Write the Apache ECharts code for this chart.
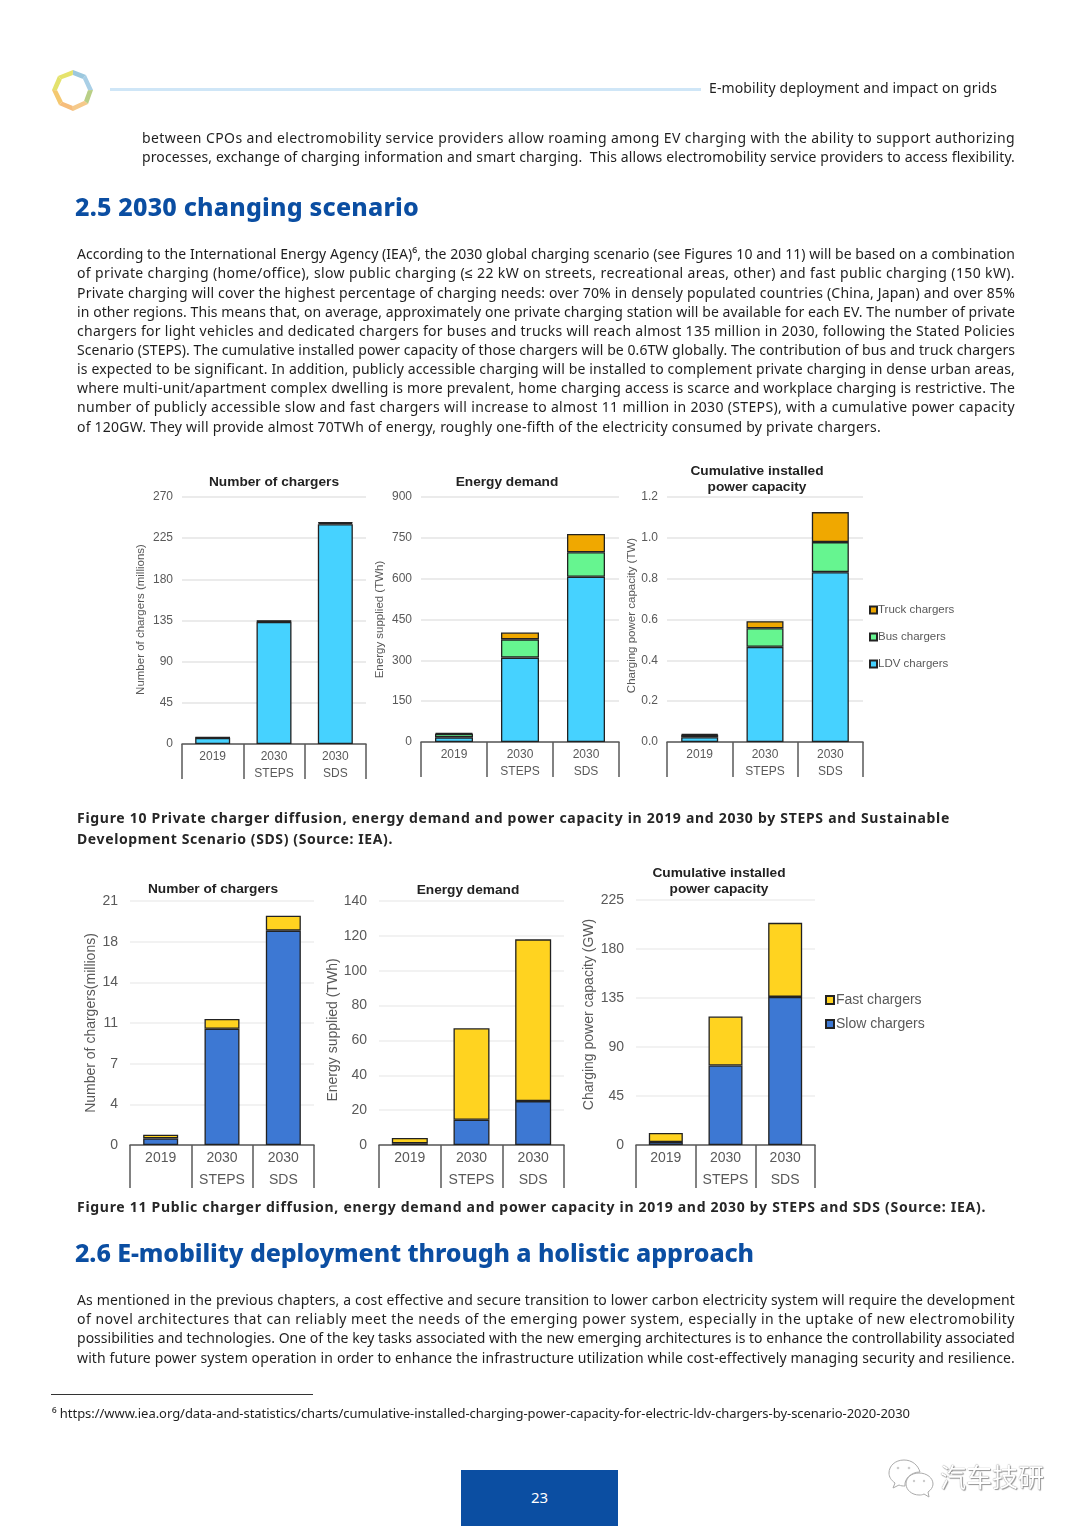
<!DOCTYPE html>
<html>
<head>
<meta charset="utf-8">
<title>E-mobility deployment and impact on grids</title>
<script src="https://cdn.jsdelivr.net/npm/echarts@6/dist/echarts.min.js"></script>
<style>
  html, body { margin: 0; padding: 0; background: #fff; }
  #page { position: relative; width: 1080px; height: 1526px; overflow: hidden; }
  #charts { position: absolute; left: 0; top: 0; width: 1080px; height: 1526px; }
  .line { position: absolute; white-space: pre; font-family: "Noto Sans", sans-serif; line-height: 20px; height: 20px; color: #1f1f1f; }
  .body { font-size: 14px; }
  .note { font-size: 13px; }
  .cap { font-size: 14px; font-weight: 700; color: #262626; }
  .head { font-size: 25px; font-weight: 800; color: #0b4ea2; line-height: 34px; height: 34px; }
  #rule1 { position: absolute; left: 110px; top: 88px; width: 591px; height: 3px; background: #cfe6f7; }
  #rule2 { position: absolute; left: 51px; top: 1394px; width: 262px; height: 1px; background: #333; }
  #pageno { position: absolute; left: 461px; top: 1470px; width: 157px; height: 56px; background: #0b4ea2; color: #fff;
    font: 15px/54px "Noto Sans", sans-serif; text-align: center; }
  #mark { position: absolute; left: 940px; top: 1459px; font: 26px/34px "Noto Sans CJK SC", sans-serif; color: #fff;
    text-shadow: 0 0 1px #666, 1px 1px 1px #999; white-space: pre; }
  #wechat { position: absolute; left: 887px; top: 1458px; }
  #logo { position: absolute; left: 52px; top: 69px; }
</style>
</head>
<body>
<div id="page">
  <div id="charts"></div>
  <div id="rule1"></div>
  <div id="rule2"></div>
  <div id="pageno">23</div>
  <svg id="logo" width="42" height="44" viewBox="0 0 42 44">
    <polygon points="21,1 34,6 20,22" fill="#9cc8de"/>
    <polygon points="34,6 41,21 20,22" fill="#a9cfe6"/>
    <polygon points="41,21 36,35 20,22" fill="#b9cf86"/>
    <polygon points="36,35 21,42 20,22" fill="#f5c98a"/>
    <polygon points="21,42 7,36 20,22" fill="#f6bd7c"/>
    <polygon points="7,36 0,21 20,22" fill="#f4c870"/>
    <polygon points="0,21 6,7 20,22" fill="#e3e26c"/>
    <polygon points="6,7 21,1 20,22" fill="#e6e36c"/>
    <polygon points="21,6 31,10 36,21 32,32 21,37 11,33 5,21 10,10" fill="#fff"/>
  </svg>
  <svg id="wechat" width="48" height="40" viewBox="0 0 48 40">
    <path d="M17 2C8 2 2 8 2 15c0 4 2 7 6 10l-2 5 6-3c2 1 4 1 6 1C17 21 24 14 33 14 31 7 25 2 17 2Z" fill="#fff" stroke="#aaa" stroke-width="1"/>
    <path d="M32 15c-8 0-13 5-13 11s6 11 13 11c2 0 3 0 5-1l5 3-1-5c3-2 5-5 5-8 0-6-6-11-14-11Z" fill="#fff" stroke="#aaa" stroke-width="1"/>
    <circle cx="11" cy="10" r="1.3" fill="#ccc"/><circle cx="22" cy="10" r="1.3" fill="#ccc"/>
    <circle cx="27" cy="23" r="1.2" fill="#ccc"/><circle cx="37" cy="23" r="1.2" fill="#ccc"/>
  </svg>
  <div id="mark">汽车技研</div>
</div>
<script>
const categories = ['2019', '2030\nSTEPS', '2030\nSDS'];

// private chargers (figure 10)
const ldvCount = [6.5, 133.5, 240.2];
const busCount = [0.5, 0.9, 1.4];
const truckCount = [0.3, 0.4, 0.7];
const ldvEnergy = [17, 310, 607];
const busEnergy = [13, 67, 90];
const truckEnergy = [4, 25, 67];
const ldvPower = [0.023, 0.466, 0.832];
const busPower = [0.012, 0.091, 0.147];
const truckPower = [0.004, 0.035, 0.147];

// public chargers (figure 11)
const slowCount = [0.57, 10, 18.45];
const fastCount = [0.32, 0.84, 1.29];
const slowEnergy = [1, 14.5, 25.2];
const fastEnergy = [3, 52.5, 92.8];
const slowPower = [2.8, 73, 136];
const fastPower = [8.2, 45, 68];

const publicCountTicks = ['0', '4', '7', '11', '14', '18', '21'];

const privateColors = { 'LDV chargers': '#46d2ff', 'Bus chargers': '#66f590', 'Truck chargers': '#f0a800' };
const publicColors = { 'Slow chargers': '#3d78d3', 'Fast chargers': '#ffd320' };

const GREY = '#595959';
const DARK = '#222';

// namePad shifts the rotated axis name along the axis
const panels = [
  {
    title: 'Number of chargers', titleX: 274, titleY: 482, name: 'Number of chargers (millions)',
    left: 182, right: 366, top: 497, bottom: 744, max: 270, interval: 45, gap: 35, barWidth: 35, small: true, namePad: [0, 0, 0, 2],
    series: [['LDV chargers', ldvCount], ['Bus chargers', busCount], ['Truck chargers', truckCount]],
  },
  {
    title: 'Energy demand', titleX: 507, titleY: 482, name: 'Energy supplied (TWh)',
    left: 421, right: 619, top: 497, bottom: 742, max: 900, interval: 150, gap: 35, barWidth: 38, small: true, namePad: [0, 0, 0, 0],
    series: [['LDV chargers', ldvEnergy], ['Bus chargers', busEnergy], ['Truck chargers', truckEnergy]],
  },
  {
    title: 'Cumulative installed\npower capacity', titleX: 757, titleY: 479, name: 'Charging power capacity (TW)',
    left: 667, right: 863, top: 497, bottom: 742, max: 1.2, interval: 0.2, gap: 29, barWidth: 37, small: true, digits: 1, namePad: [0, 0, 0, 8],
    series: [['LDV chargers', ldvPower], ['Bus chargers', busPower], ['Truck chargers', truckPower]],
  },
  {
    title: 'Number of chargers', titleX: 213, titleY: 889, name: 'Number of chargers(millions)',
    left: 130, right: 314, top: 901, bottom: 1145, max: 21, interval: 3.5, gap: 25, barWidth: 35, ticks: publicCountTicks, namePad: [0, 0, 0, 0],
    series: [['Slow chargers', slowCount], ['Fast chargers', fastCount]],
  },
  {
    title: 'Energy demand', titleX: 468, titleY: 890, name: 'Energy supplied (TWh)',
    left: 379, right: 564, top: 901, bottom: 1145, max: 140, interval: 20, gap: 34, barWidth: 36, namePad: [0, 14, 0, 0],
    series: [['Slow chargers', slowEnergy], ['Fast chargers', fastEnergy]],
  },
  {
    title: 'Cumulative installed\npower capacity', titleX: 719, titleY: 881, name: 'Charging power capacity (GW)',
    left: 636, right: 815, top: 900, bottom: 1145, max: 225, interval: 45, gap: 40, barWidth: 34, namePad: [0, 0, 0, 16],
    series: [['Slow chargers', slowPower], ['Fast chargers', fastPower]],
  },
];

const W = 1080;
const H = 1526;
const colors = Object.assign({}, privateColors, publicColors);

const option = {
  animation: false,
  title: panels.map((p) => ({
    text: p.title,
    left: p.titleX,
    top: p.titleY,
    padding: 0,
    textAlign: 'center',
    textVerticalAlign: 'middle',
    textStyle: { fontFamily: 'Liberation Sans', fontSize: 13.7, fontWeight: 'bold', color: DARK, lineHeight: 16 },
  })),
  grid: panels.map((p) => ({ left: p.left, top: p.top, width: p.right - p.left, height: p.bottom - p.top })),
  xAxis: panels.map((p, i) => ({
    type: 'category',
    gridIndex: i,
    data: categories,
    axisLine: { lineStyle: { color: GREY, width: 1.5 } },
    axisTick: { show: true, length: p.small ? 35 : 43, lineStyle: { color: GREY, width: 1.5 } },
    axisLabel: {
      interval: 0,
      margin: p.small ? 4 : 2,
      color: GREY,
      fontFamily: 'Liberation Sans',
      fontSize: p.small ? 12 : 14,
      lineHeight: p.small ? 17 : 22,
      verticalAlign: 'top',
    },
  })),
  yAxis: panels.map((p, i) => ({
    type: 'value',
    gridIndex: i,
    min: 0,
    max: p.max,
    interval: p.interval,
    name: p.name,
    nameLocation: 'middle',
    nameGap: p.gap,
    nameRotate: 90,
    nameTextStyle: { fontFamily: 'Liberation Sans', fontSize: p.small ? 11.5 : 14, color: GREY, padding: p.namePad },
    axisLine: { show: false },
    axisTick: { show: false },
    splitLine: { lineStyle: { color: p.small ? '#e4e4e4' : '#eeeeee', width: 1.5 } },
    axisLabel: {
      margin: p.small ? 9 : 12,
      color: GREY,
      fontFamily: 'Liberation Sans',
      fontSize: p.small ? 12 : 14,
      formatter: (v) => {
        if (p.ticks) return p.ticks[Math.round(v / p.interval)];
        return p.digits ? v.toFixed(p.digits) : String(v);
      },
    },
  })),
  legend: [
    {
      data: ['Truck chargers', 'Bus chargers', 'LDV chargers'],
      orient: 'vertical', left: 869, top: 603, itemWidth: 7, itemHeight: 7, itemGap: 13, padding: 0,
      icon: 'rect',
      selectedMode: false,
      textStyle: { fontFamily: 'Liberation Sans', fontSize: 11.5, color: GREY, padding: [0, 0, 0, -4], height: 14, lineHeight: 14 },
    },
    {
      data: ['Fast chargers', 'Slow chargers'],
      orient: 'vertical', left: 825, top: 992, itemWidth: 8, itemHeight: 8, itemGap: 8, padding: 0,
      icon: 'rect',
      selectedMode: false,
      textStyle: { fontFamily: 'Liberation Sans', fontSize: 14, color: GREY, padding: [0, 0, 0, -3], height: 16, lineHeight: 16 },
    },
  ],
  series: panels.flatMap((p, i) => p.series.map(([name, values]) => ({
    type: 'bar',
    name,
    stack: 'panel' + i,
    xAxisIndex: i,
    yAxisIndex: i,
    data: values,
    barWidth: p.barWidth,
    itemStyle: { color: colors[name], borderColor: DARK, borderWidth: 1.3 },
  }))),
};

const myChart = echarts.init(document.getElementById('charts'), null, { width: W, height: H, renderer: 'canvas' });
myChart.setOption(option);

// page text, one entry per printed line: text, left, middle y, right edge, class
const pageLines = [
  ['E-mobility deployment and impact on grids', 709, 88, 997, 'body'],
  ['between CPOs and electromobility service providers allow roaming among EV charging with the ability to support authorizing', 142, 138, 1015, 'body'],
  ['processes, exchange of charging information and smart charging.  This allows electromobility service providers to access flexibility.', 142, 157, 1015, 'body'],
  ['2.5 2030 changing scenario', 75, 206, 419, 'head'],
  ['According to the International Energy Agency (IEA)⁶, the 2030 global charging scenario (see Figures 10 and 11) will be based on a combination', 77, 254, 1015, 'body'],
  ['of private charging (home/office), slow public charging (≤ 22 kW on streets, recreational areas, other) and fast public charging (150 kW).', 77, 273, 1015, 'body'],
  ['Private charging will cover the highest percentage of charging needs: over 70% in densely populated countries (China, Japan) and over 85%', 77, 293, 1015, 'body'],
  ['in other regions. This means that, on average, approximately one private charging station will be available for each EV. The number of private', 77, 312, 1015, 'body'],
  ['chargers for light vehicles and dedicated chargers for buses and trucks will reach almost 135 million in 2030, following the Stated Policies', 77, 331, 1015, 'body'],
  ['Scenario (STEPS). The cumulative installed power capacity of those chargers will be 0.6TW globally. The contribution of bus and truck chargers', 77, 350, 1015, 'body'],
  ['is expected to be significant. In addition, publicly accessible charging will be installed to complement private charging in dense urban areas,', 77, 369, 1015, 'body'],
  ['where multi-unit/apartment complex dwelling is more prevalent, home charging access is scarce and workplace charging is restrictive. The', 77, 388, 1015, 'body'],
  ['number of publicly accessible slow and fast chargers will increase to almost 11 million in 2030 (STEPS), with a cumulative power capacity', 77, 407, 1015, 'body'],
  ['of 120GW. They will provide almost 70TWh of energy, roughly one-fifth of the electricity consumed by private chargers.', 77, 427, 881, 'body'],
  ['Figure 10 Private charger diffusion, energy demand and power capacity in 2019 and 2030 by STEPS and Sustainable', 77, 818, 950, 'cap'],
  ['Development Scenario (SDS) (Source: IEA).', 77, 839, 393, 'cap'],
  ['Figure 11 Public charger diffusion, energy demand and power capacity in 2019 and 2030 by STEPS and SDS (Source: IEA).', 77, 1207, 986, 'cap'],
  ['2.6 E-mobility deployment through a holistic approach', 75, 1252, 754, 'head'],
  ['As mentioned in the previous chapters, a cost effective and secure transition to lower carbon electricity system will require the development', 77, 1300, 1015, 'body'],
  ['of novel architectures that can reliably meet the needs of the emerging power system, especially in the uptake of new electromobility', 77, 1319, 1015, 'body'],
  ['possibilities and technologies. One of the key tasks associated with the new emerging architectures is to enhance the controllability associated', 77, 1338, 1015, 'body'],
  ['with future power system operation in order to enhance the infrastructure utilization while cost-effectively managing security and resilience.', 77, 1358, 1015, 'body'],
  ['⁶ https://www.iea.org/data-and-statistics/charts/cumulative-installed-charging-power-capacity-for-electric-ldv-chargers-by-scenario-2020-2030', 52, 1413, 910, 'note'],
];

const page = document.getElementById('page');
pageLines.forEach(([text, x, y, right, cls]) => {
  const el = document.createElement('div');
  el.className = 'line ' + cls;
  el.textContent = text;
  page.appendChild(el);
  const h = cls === 'head' ? 34 : 20;
  el.style.left = x + 'px';
  el.style.top = y - h / 2 + 'px';
  // squeeze or stretch the line so that it ends at the printed right edge
  const w = el.getBoundingClientRect().width;
  el.style.letterSpacing = (right - x - w) / text.length + 'px';
});
</script>
</body>
</html>
